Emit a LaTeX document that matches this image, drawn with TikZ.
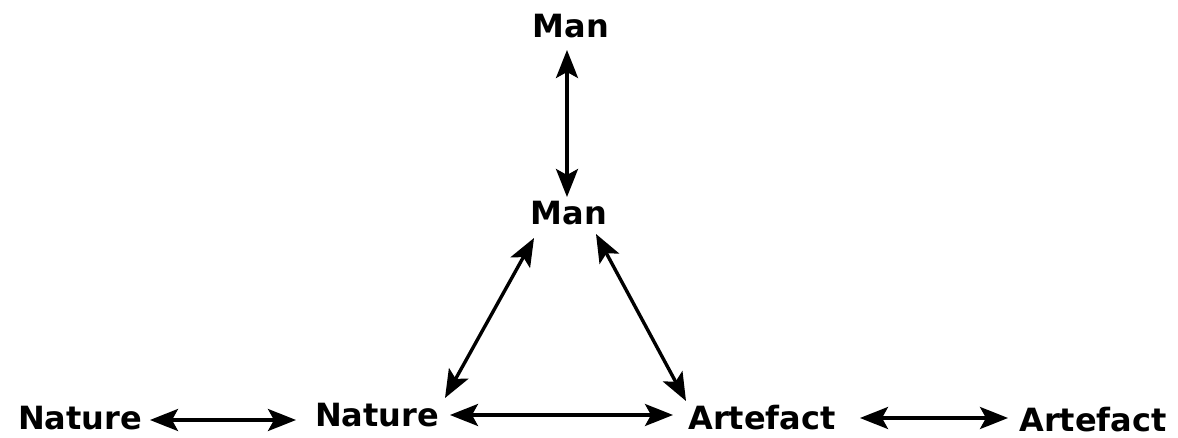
\documentclass[tikz,border=0pt]{standalone}
\usepackage{fontspec}
\setmainfont{DejaVu Sans}
\usetikzlibrary{arrows.meta}
\begin{document}
\begin{tikzpicture}[x=1pt,y=-1pt,
  lbl/.style={font=\bfseries\fontsize{32}{36}\selectfont, inner sep=0pt, anchor=center},
  tip/.style={Stealth[length=28pt,width=22pt,inset=6pt]},
  link/.style={line width=3.4pt, {Stealth[length=28pt,width=22pt,inset=6pt]}-{Stealth[length=28pt,width=22pt,inset=6pt]}}]
\useasboundingbox (0,0) rectangle (1178,438);
\node[lbl] (mtop) at (571,26) {Man};
\node[lbl] (mmid) at (569,213) {Man};
\node[lbl] (nl) at (80,418) {Nature};
\node[lbl] (nm) at (377,415) {Nature};
\node[lbl] (am) at (762,418) {Artefact};
\node[lbl] (ar) at (1093,420) {Artefact};
\coordinate (v1) at (567,50);
\coordinate (v2) at (567,197);
\draw[link] (v1) -- (v2);
\coordinate (l1) at (534,238);
\coordinate (l2) at (445,398);
\draw[link] (l1) -- (l2);
\coordinate (r1) at (596,234);
\coordinate (r2) at (686,401);
\draw[link] (r1) -- (r2);
\coordinate (h1a) at (150,420);
\coordinate (h1b) at (296,420);
\draw[link] (h1a) -- (h1b);
\coordinate (h2a) at (450,415);
\coordinate (h2b) at (673,415);
\draw[link] (h2a) -- (h2b);
\coordinate (h3a) at (860,418);
\coordinate (h3b) at (1008,418);
\draw[link] (h3a) -- (h3b);
\end{tikzpicture}
\end{document}
